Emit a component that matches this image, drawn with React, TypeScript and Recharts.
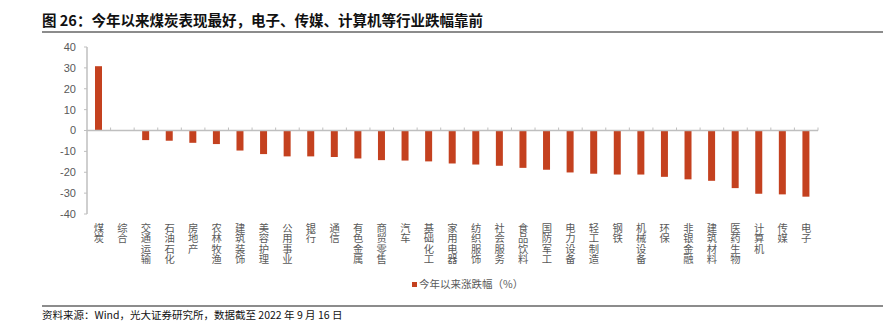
import React from 'react';
import { BarChart, Bar, XAxis, YAxis, ReferenceLine, Legend } from 'recharts';

const categories = ['煤炭','综合','交通运输','石油石化','房地产','农林牧渔','建筑装饰','美容护理','公用事业','银行','通信','有色金属','商贸零售','汽车','基础化工','家用电器','纺织服饰','社会服务','食品饮料','国防军工','电力设备','轻工制造','钢铁','机械设备','环保','非银金融','建筑材料','医药生物','计算机','传媒','电子'];
const changes = [30.8,0,-4.6,-4.9,-5.9,-6.5,-9.6,-11.3,-12.4,-12.4,-12.7,-13.4,-14.2,-14.4,-14.8,-15.8,-16.3,-16.9,-17.9,-18.8,-20.1,-20.7,-21.1,-21.1,-22.2,-23.4,-24.1,-27.6,-30.3,-30.6,-31.7];
const yTicks = [-40,-30,-20,-10,0,10,20,30,40];
const seriesName = '今年以来涨跌幅（%）';
const titleText = '图 26：今年以来煤炭表现最好，电子、传媒、计算机等行业跌幅靠前';
const sourceText = '资料来源：Wind，光大证券研究所，数据截至 2022 年 9 月 16 日';

const data = categories.map((c, i) => ({ name: c, value: changes[i] }));

const CJK = '"Noto Sans CJK SC", "Liberation Sans", sans-serif';
const LAT = '"Liberation Sans", "Noto Sans CJK SC", sans-serif';
const RED = '#C4411F';
const GREY_TXT = '#595959';
const AXIS = '#BFBFBF';

const XTick = (props: any) => {
  const { x, y, payload } = props;
  return (
    <text
      x={x}
      y={y + 9}
      textAnchor="start"
      fill={GREY_TXT}
      fontSize={10.3}
      fontFamily={CJK}
      style={{ writingMode: 'vertical-rl', textOrientation: 'upright' } as any}
    >
      {String(payload.value)}
    </text>
  );
};

const ZeroAxis = (props: any) => {
  const { x1, y1, x2 } = props;
  const n = categories.length;
  const step = (x2 - x1) / n;
  const ticks = [];
  for (let i = 1; i <= n; i++) {
    const tx = x1 + step * i;
    ticks.push(<line key={i} x1={tx} x2={tx} y1={y1} y2={y1 - 3} stroke={AXIS} strokeWidth={1} />);
  }
  return (
    <g>
      <line x1={x1} x2={x2} y1={y1} y2={y1} stroke={AXIS} strokeWidth={1.5} />
      {ticks}
    </g>
  );
};

const LegendContent = (props: any) => {
  const { payload } = props;
  return (
    <div style={{ display: 'flex', alignItems: 'center', fontFamily: CJK, fontSize: 10.5, color: GREY_TXT, lineHeight: '20px' }}>
      {(payload || []).map((p: any, i: number) => (
        <span key={i} style={{ display: 'flex', alignItems: 'center' }}>
          <span style={{ display: 'inline-block', width: 5, height: 5, background: RED, marginRight: 2 }} />
          {p.value}
        </span>
      ))}
    </div>
  );
};

export default function App() {
  return (
    <div style={{ position: 'absolute', left: 0, top: 0, width: 885, height: 332, background: '#fff', overflow: 'hidden' }}>
      <div style={{ position: 'absolute', left: 42, top: 10, fontFamily: CJK, fontWeight: 700, fontSize: 14.5, color: '#111', lineHeight: '20px', whiteSpace: 'nowrap' }}>
        {titleText}
      </div>
      <div style={{ position: 'absolute', left: 42, top: 31, width: 841, height: 2, background: '#8C8C8C' }} />
      <div style={{ position: 'absolute', left: 0, top: 0 }}>
        <BarChart width={885} height={294} data={data} margin={{ top: 47, right: 67, left: 0, bottom: 0 }}>
          <YAxis
            domain={[-40, 40]}
            ticks={yTicks}
            width={87}
            interval={0}
            axisLine={{ stroke: AXIS, strokeWidth: 1.5 }}
            tickLine={{ stroke: AXIS }}
            tickSize={3}
            tickMargin={8}
            tick={{ fill: GREY_TXT, fontSize: 11, fontFamily: LAT }}
          />
          <XAxis
            dataKey="name"
            interval={0}
            height={60}
            axisLine={false}
            tickLine={false}
            tickSize={0}
            tickMargin={0}
            tick={<XTick />}
          />
          <ReferenceLine y={0} shape={(p: any) => <ZeroAxis {...p} />} />
          <Legend
            verticalAlign="bottom"
            align="left"
            height={20}
            content={<LegendContent />}
            wrapperStyle={{ left: 412, width: 200 }}
          />
          <Bar dataKey="value" name={seriesName} fill={RED} barSize={7} isAnimationActive={false} />
        </BarChart>
      </div>
      <div style={{ position: 'absolute', left: 42, top: 305, width: 841, height: 2, background: '#8C8C8C' }} />
      <div style={{ position: 'absolute', left: 42, top: 307, fontFamily: CJK, fontSize: 10.5, color: '#111', lineHeight: '15px', whiteSpace: 'nowrap' }}>
        {sourceText}
      </div>
    </div>
  );
}
